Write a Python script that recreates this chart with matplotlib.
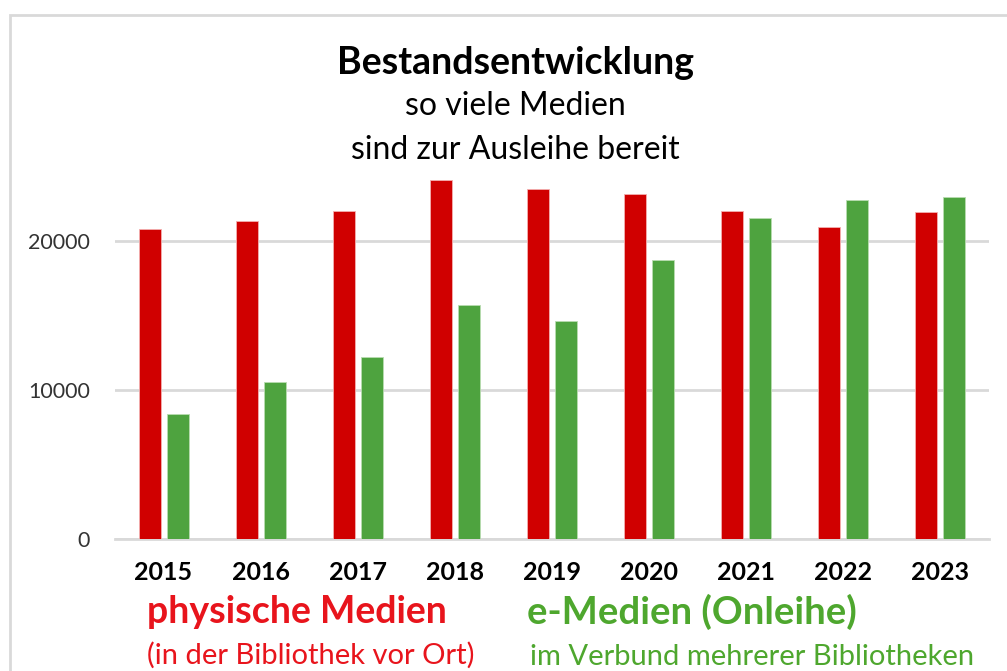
import matplotlib
matplotlib.use("Agg")
import matplotlib.pyplot as plt
from matplotlib.patches import Rectangle
import numpy as np

plt.rcParams['font.family'] = ['Lato', 'DejaVu Sans']

# Daten
jahre = ["2015", "2016", "2017", "2018", "2019", "2020", "2021", "2022", "2023"]
physisch = [20800, 21360, 22010, 24070, 23490, 23130, 22010, 20920, 21930]
e_medien = [8390, 10520, 12200, 15700, 14610, 18700, 21540, 22750, 22930]

rot = "#D00000"
gruen = "#4EA33F"

fig = plt.figure(figsize=(10.07, 6.71), dpi=100)

# grauer Rahmen um das Diagramm
fig.patches.append(Rectangle((10 / 1007, -0.1), 1.2, 0.1 + 1 - 15 / 671,
                             transform=fig.transFigure, fill=False,
                             edgecolor="#d9d9d9", lw=2, zorder=0))

ax = fig.add_axes([115 / 1007, 1 - 539 / 671, 874 / 1007, 372.5 / 671])

x = np.arange(len(jahre))
breite = 0.227
abstand = 0.144
ax.bar(x - abstand, physisch, breite, color=rot, edgecolor="#f4b0b0", lw=0.6, zorder=3)
ax.bar(x + abstand, e_medien, breite, color=gruen, edgecolor="#b8dcb0", lw=0.6, zorder=3)

ax.set_xlim(-0.5, len(jahre) - 0.5)
ax.set_ylim(0, 25000)
ax.set_yticks([0, 10000, 20000])
ax.set_yticklabels(["0", "10000", "20000"], fontsize=15.5, color="#333333")
ax.set_xticks(x)
ax.set_xticklabels(jahre, fontsize=18, fontweight="bold", color="black")
ax.tick_params(axis="both", length=0)
ax.tick_params(axis="y", pad=18)
ax.tick_params(axis="x", pad=16)
ax.grid(axis="y", color="#d9d9d9", lw=2, zorder=0)
for s in ["top", "right", "left"]:
    ax.spines[s].set_visible(False)
ax.spines["bottom"].set_color("#d9d9d9")
ax.spines["bottom"].set_linewidth(2)

# Titel
fig.text(515 / 1007, 1 - 63 / 671, "Bestandsentwicklung", ha="center", va="center",
         fontsize=27, fontweight="bold")
fig.text(515 / 1007, 1 - 106 / 671, "so viele Medien", ha="center", va="center",
         fontsize=23)
fig.text(515 / 1007, 1 - 150 / 671, "sind zur Ausleihe bereit", ha="center", va="center",
         fontsize=23)

# Legende als Text unter der Achse
fig.text(147 / 1007, 1 - 612 / 671, "physische Medien", ha="left", va="center",
         fontsize=27, fontweight="bold", color="#E8141C")
fig.text(147 / 1007, 1 - 655 / 671, "(in der Bibliothek vor Ort)", ha="left", va="center",
         fontsize=21, color="#E8141C")
fig.text(527 / 1007, 1 - 612 / 671, "e-Medien (Onleihe)", ha="left", va="center",
         fontsize=27.5, fontweight="bold", color="#4EA72E")
fig.text(530 / 1007, 1 - 657 / 671, "im Verbund mehrerer Bibliotheken", ha="left", va="center",
         fontsize=21, color="#4EA72E")

fig.savefig("out.png", dpi=100)
